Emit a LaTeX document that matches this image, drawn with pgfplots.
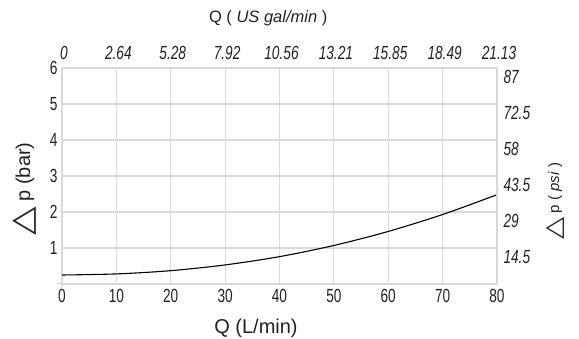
\documentclass[border=0pt]{standalone}
\usepackage{graphicx}
\usepackage{pgfplots}
\pgfplotsset{compat=1.18}
\usepackage{fontspec}
\setmainfont{Liberation Sans}
\newfontfamily\narrow{Liberation Sans}[FakeStretch=0.72]
\newfontfamily\dejavu{DejaVu Sans}
\definecolor{gridc}{HTML}{D9D9D9}
\definecolor{txt}{HTML}{222222}
\begin{document}
\begin{tikzpicture}
\path[use as bounding box] (-62pt,-55pt) rectangle (517pt,284pt);
\pgfplotsset{common/.style={
  scale only axis, width=435pt, height=216pt,
  at={(0pt,0pt)}, anchor=south west,
  xmin=0, xmax=80, ymin=0, ymax=6,
  xtick={0,10,...,80}, ytick={1,2,3,4,5,6},
  major tick length=0pt,
  axis line style={gridc, line width=1.2pt},
  tick label style={font=\fontsize{19}{19}\selectfont\narrow, text=txt},
  /pgf/number format/assume math mode=true,
  clip=false,
}}
\begin{axis}[common,
  axis x line*=bottom, axis y line*=left,
  grid=major, grid style={gridc, line width=1.2pt},
  xticklabel style={yshift=-2pt},
  yticklabel style={xshift=-1pt},
  extra x ticks={0}, extra y ticks={0},
  extra x tick labels={}, extra y tick labels={},
  extra tick style={major tick length=5pt, tick align=outside, tick style={gridc, line width=1pt}, grid=none},
]
\addplot[black, line width=1.1pt, smooth] coordinates {
(0,0.25) (10,0.28) (20,0.37) (30,0.53) (40,0.76) (50,1.07) (60,1.46) (70,1.93) (80,2.48)
};
\node[text=txt] at (rel axis cs:0.446,-0.204) {\fontsize{20}{20}\selectfont Q (L/min)};
\node[text=txt] at (rel axis cs:0.474,1.231) {\fontsize{16.5}{16.5}\selectfont Q ( \textit{US gal/min} )};
\node[text=txt, rotate=90] at (rel axis cs:-0.087,0.44) {\fontsize{20}{20}\selectfont\raisebox{-2pt}{\scalebox{1.2}[1]{\dejavu\fontsize{31}{31}\selectfont △}} p (bar)};
\node[text=txt, rotate=90] at (rel axis cs:1.133,0.384) {\fontsize{15}{15}\selectfont\raisebox{-2pt}{\scalebox{1.2}[1]{\dejavu\fontsize{24}{24}\selectfont △}} p ( \textit{psi} )};
\end{axis}
\begin{axis}[common,
  axis x line*=top, axis y line*=right,
  xticklabels={0,2.64,5.28,7.92,10.56,13.21,15.85,18.49,21.13},
  yticklabels={14.5,29,43.5,58,72.5,87},
  xticklabel style={font=\fontsize{19}{19}\selectfont\narrow\itshape, yshift=5pt, xshift=2pt},
  yticklabel style={font=\fontsize{19}{19}\selectfont\narrow\itshape, yshift=-9pt, xshift=3pt},
]
\addplot[draw=none] coordinates {(0,0) (80,6)};
\end{axis}
\end{tikzpicture}
\end{document}
